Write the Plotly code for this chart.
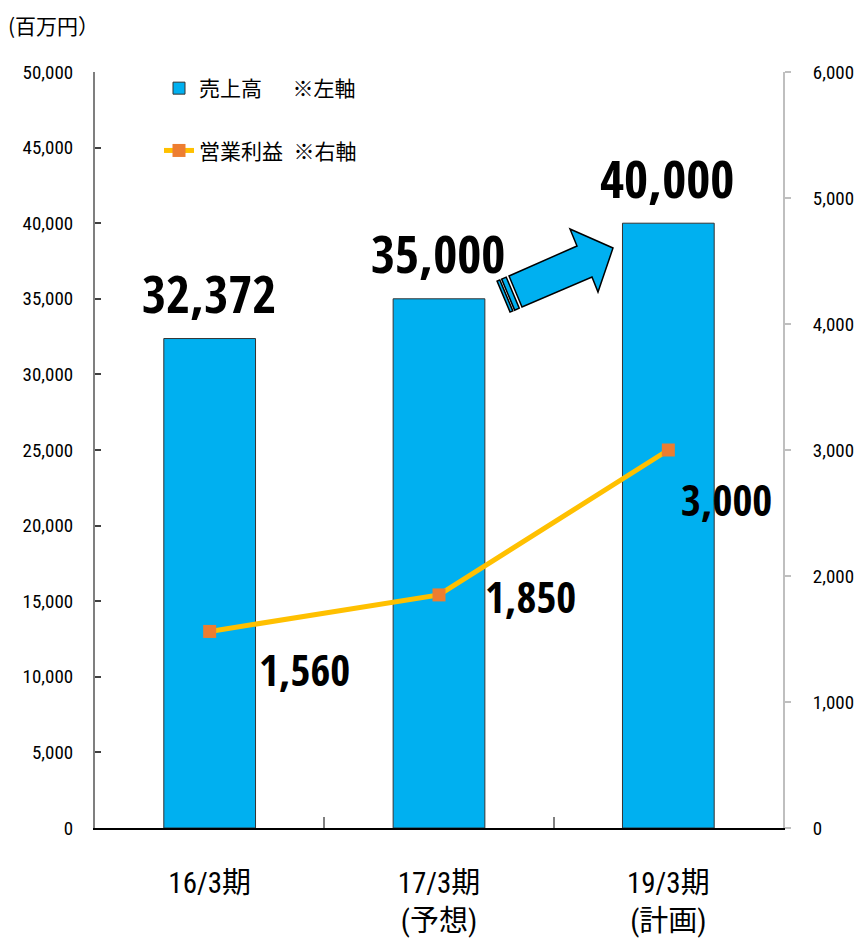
import plotly.graph_objects as go
import numpy as np

# ---- data ----
categories = ["16/3期", "17/3期<br>(予想)", "19/3期<br>(計画)"]
sales = [32372, 35000, 40000]          # 売上高 (left axis)
op_income = [1560, 1850, 3000]         # 営業利益 (right axis)
sales_labels = ["32,372", "35,000", "40,000"]
income_labels = ["1,560", "1,850", "3,000"]
left_ticks = [0, 5000, 10000, 15000, 20000, 25000, 30000, 35000, 40000, 45000, 50000]
right_ticks = [0, 1000, 2000, 3000, 4000, 5000, 6000]

W, H = 856, 941
ML, MR, MT, MB = 95, 73, 72, 113

BIG = "Open Sans Condensed, Roboto Condensed, Noto Sans CJK JP, sans-serif"
NARROW = "Roboto Condensed, Noto Sans CJK JP, sans-serif"
CJK = "Noto Sans CJK JP, sans-serif"

fig = go.Figure()
fig.add_trace(go.Bar(
    x=categories, y=sales, name="売上高\u3000\u00a0\u00a0※左軸",
    marker=dict(color="#00B0F0", line=dict(color="#333333", width=1)),
    width=0.4, legendgroup="a", yaxis="y",
))
fig.add_trace(go.Scatter(
    x=categories, y=op_income, name="営業利益\u2002※右軸", mode="lines+markers",
    line=dict(color="#FFC000", width=5),
    marker=dict(symbol="square", size=13, color="#ED7D31"),
    legendgroup="b", yaxis="y2",
))

annotations = []
for x, v, t in zip(categories, sales, sales_labels):
    annotations.append(dict(x=x, y=v, xref="x", yref="y", text=t, showarrow=False,
                            xanchor="center", yanchor="middle", yshift=46, xshift=-1,
                            font=dict(family=BIG, size=52, color="black", weight="bold")))
inc_shifts = [(95, -38), (91, -2), (58, -49)]
for x, v, t, (dx, dy) in zip(categories, op_income, income_labels, inc_shifts):
    annotations.append(dict(x=x, y=v, xref="x", yref="y2", text=t, showarrow=False,
                            xanchor="center", yanchor="middle", xshift=dx, yshift=dy,
                            font=dict(family=BIG, size=43, color="black", weight="bold")))
annotations.append(dict(x=0, y=1, xref="paper", yref="paper", text="(百万円）", showarrow=False,
                        xanchor="left", yanchor="middle", xshift=-ML + 6, yshift=47,
                        font=dict(family=CJK, size=21, color="black")))

# ---- decorative arrow (pixel geometry -> paper) ----
pw, ph = W - ML - MR, H - MT - MB
def to_paper(p):
    return ((p[0] - ML) / pw, (H - MB - p[1]) / ph)

def path(points):
    pts = [to_paper(p) for p in points]
    return "M " + " L ".join(f"{a:.5f},{b:.5f}" for a, b in pts) + " Z"

body = [(509, 276), (577, 246), (570, 229), (613, 248), (598, 292), (592, 277), (522, 307)]
t0, t1 = np.array(body[0], float), np.array(body[-1], float)
d = np.array([-70.0, 30.0]); d /= np.linalg.norm(d)
def stripe(a, b):
    return [tuple(t0 + d * a), tuple(t0 + d * b), tuple(t1 + d * b), tuple(t1 + d * a)]

shapes = []
for pts in [body, stripe(3, 8), stripe(10, 13)]:
    shapes.append(dict(type="path", xref="paper", yref="paper", path=path(pts),
                       fillcolor="#00B0F0", line=dict(color="black", width=1.5), layer="above"))

fig.update_layout(
    width=W, height=H,
    margin=dict(l=ML, r=MR, t=MT, b=MB, autoexpand=False),
    paper_bgcolor="white", plot_bgcolor="white",
    showlegend=True,
    legend=dict(x=(159 - ML) / pw, y=1.0 + 4 / ph, xanchor="left", yanchor="top",
                font=dict(family=CJK, size=21, color="black"),
                bgcolor="rgba(0,0,0,0)", tracegroupgap=32, itemwidth=30),
    xaxis=dict(
        type="category", range=[-0.5, 2.5], automargin=False,
        showline=True, linecolor="black", linewidth=2,
        ticks="inside", tickson="boundaries", ticklen=11, tickcolor="#808080", tickwidth=2,
        tickfont=dict(family=NARROW, size=29, color="black"),
        ticklabelstandoff=28, showgrid=False, zeroline=False,
    ),
    yaxis=dict(
        range=[0, 50000], tickvals=left_ticks, tickformat=",", automargin=False,
        showline=True, linecolor="#7F7F7F", linewidth=2,
        ticks="inside", ticklen=6, tickcolor="#404040", tickwidth=1.5,
        tickfont=dict(family=NARROW, size=19, color="black"),
        ticklabelstandoff=16, showgrid=False, zeroline=False,
    ),
    yaxis2=dict(
        range=[0, 6000], tickvals=right_ticks, tickformat=",", automargin=False,
        overlaying="y", side="right",
        showline=True, linecolor="#BFBFBF", linewidth=2,
        ticks="outside", ticklen=6, tickcolor="#BFBFBF", tickwidth=1.5,
        tickfont=dict(family=NARROW, size=19, color="black"),
        ticklabelstandoff=18, showgrid=False, zeroline=False,
    ),
    annotations=annotations,
    shapes=shapes,
)

fig.write_html("out.html", config={"displayModeBar": False},
               post_script="document.body.style.margin='0';document.body.style.overflow='hidden';")
